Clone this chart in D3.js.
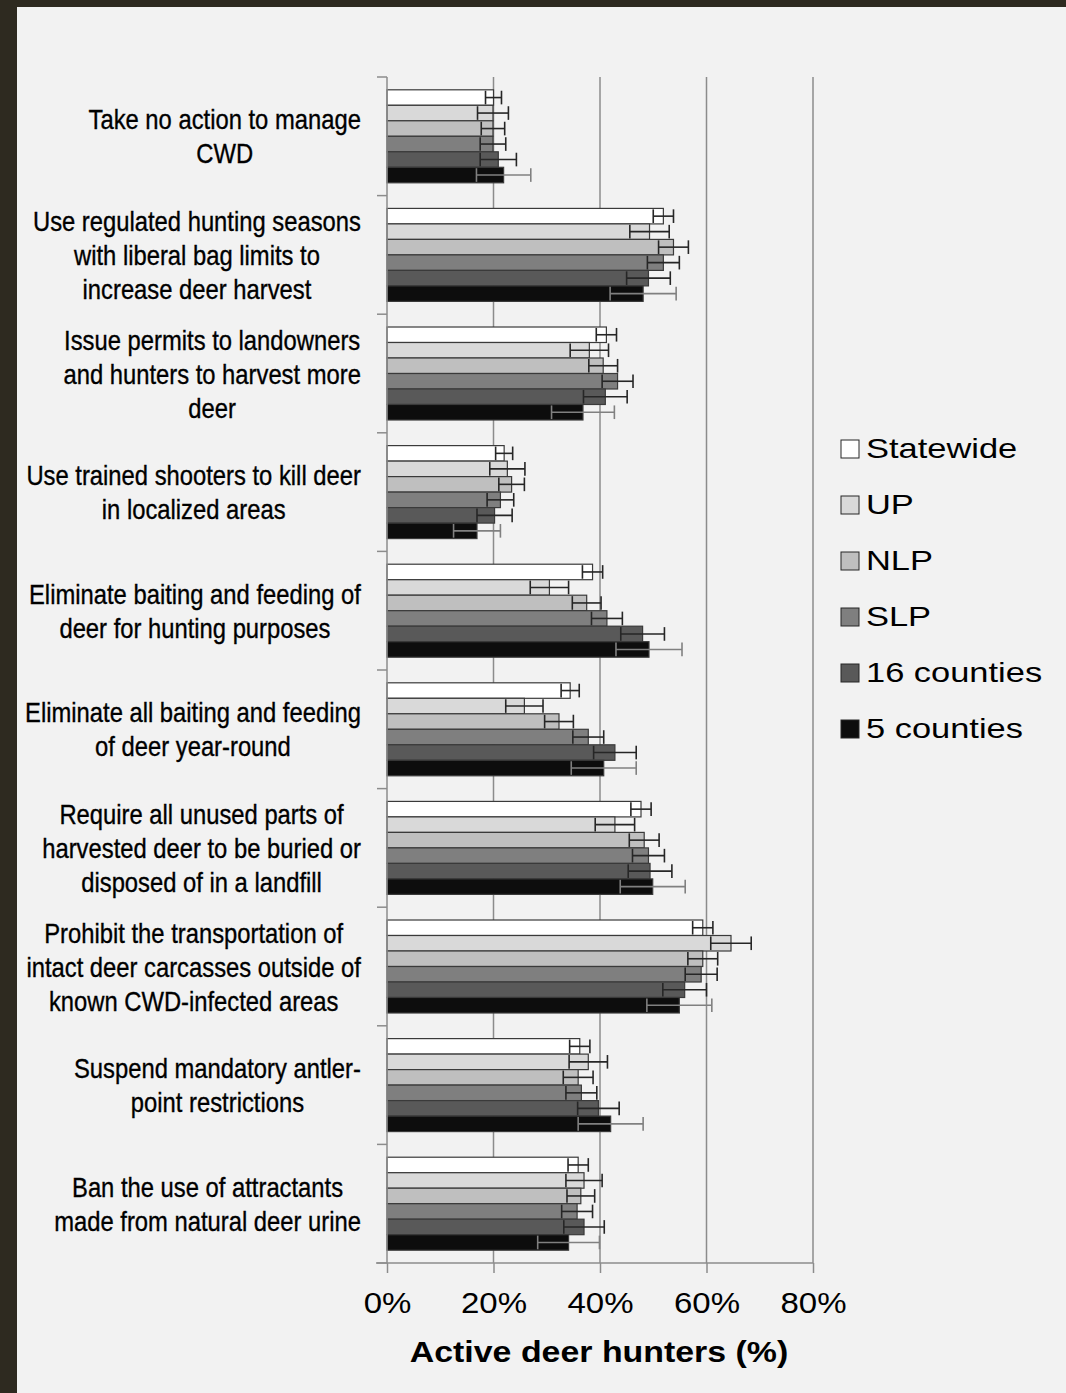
<!DOCTYPE html>
<html>
<head>
<meta charset="utf-8">
<script src="https://cdn.jsdelivr.net/npm/d3@7/dist/d3.min.js"></script>
<style>
  html, body { margin: 0; padding: 0; background: #2e2a20; }
  svg { display: block; }
  text { font-family: "Liberation Sans", Arial, sans-serif; fill: #000; }
</style>
</head>
<body>
<svg id="chart"></svg>
<script>
// Management options (label lines)
const categories = [
  ["Take no action to manage", "CWD"],
  ["Use regulated hunting seasons", "with liberal bag limits to", "increase deer harvest"],
  ["Issue permits to landowners", "and hunters to harvest more", "deer"],
  ["Use trained shooters to kill deer", "in localized areas"],
  ["Eliminate baiting and feeding of", "deer for hunting purposes"],
  ["Eliminate all baiting and feeding", "of deer year-round"],
  ["Require all unused parts of", "harvested deer to be buried or", "disposed of in a landfill"],
  ["Prohibit the transportation of", "intact deer carcasses outside of", "known CWD-infected areas"],
  ["Suspend mandatory antler-", "point restrictions"],
  ["Ban the use of attractants", "made from natural deer urine"]
];

const seriesNames = ["Statewide", "UP", "NLP", "SLP", "16 counties", "5 counties"];

// Percent support, one value per category
const statewide = [20.0, 51.9, 41.2, 22.0, 38.6, 34.4, 47.7, 59.3, 36.2, 35.9];
const up        = [19.9, 49.3, 38.0, 22.6, 30.5, 25.8, 42.8, 64.6, 37.8, 37.0];
const nlp       = [19.9, 53.8, 40.6, 23.4, 37.5, 32.3, 48.3, 59.3, 35.9, 36.4];
const slp       = [19.9, 51.9, 43.3, 21.3, 41.3, 37.8, 49.1, 59.0, 36.5, 35.7];
const counties16 = [20.9, 49.1, 41.0, 20.2, 48.0, 42.8, 49.4, 55.9, 39.7, 37.0];
const counties5  = [21.9, 48.1, 36.8, 16.9, 49.2, 40.7, 49.9, 54.9, 42.0, 34.1];

// Error bar half-widths (percentage points)
const statewideErr  = [1.5, 1.9, 1.9, 1.6, 1.9, 1.7, 1.9, 1.9, 1.9, 1.9];
const upErr         = [2.9, 3.7, 3.6, 3.3, 3.6, 3.5, 3.7, 3.8, 3.6, 3.4];
const nlpErr        = [2.2, 2.8, 2.7, 2.4, 2.7, 2.7, 2.8, 2.8, 2.8, 2.6];
const slpErr        = [2.4, 3.0, 2.9, 2.5, 2.9, 2.9, 3.0, 3.0, 2.9, 2.9];
const counties16Err = [3.4, 4.1, 4.1, 3.3, 4.1, 4.0, 4.1, 4.1, 3.9, 3.8];
const counties5Err  = [5.1, 6.2, 5.9, 4.4, 6.2, 6.1, 6.1, 6.1, 6.1, 5.8];

const xTicks = [0, 20, 40, 60, 80];

const seriesValues = [statewide, up, nlp, slp, counties16, counties5];
const seriesErrors = [statewideErr, upErr, nlpErr, slpErr, counties16Err, counties5Err];
const fills = ["#ffffff", "#d9d9d9", "#bfbfbf", "#7f7f7f", "#595959", "#0d0d0d"];
const errColors = ["#262626", "#262626", "#262626", "#262626", "#262626", "#808080"];

// Flatten into bar records
const bars = [];
categories.forEach((c, ci) => {
  seriesNames.forEach((s, si) => {
    bars.push({ cat: ci, series: s, si: si, value: seriesValues[si][ci], err: seriesErrors[si][ci] });
  });
});

const W = 1066, H = 1393;
const plot = { left: 387, right: 813, top: 77, bottom: 1263 };

const svg = d3.select("#chart").attr("width", W).attr("height", H);

// Light panel inside the dark frame
svg.append("rect")
  .attr("x", 17).attr("y", 7)
  .attr("width", W - 17).attr("height", H - 7)
  .attr("fill", "#f2f2f2");

// Scales
const xScale = d3.scaleLinear().domain([0, 80]).range([plot.left, plot.right]);

const yScale = d3.scaleBand()
  .domain(d3.range(categories.length))
  .range([plot.top, plot.bottom])
  .paddingInner(0.216)
  .paddingOuter(0.108);

const ySub = d3.scaleBand()
  .domain(seriesNames)
  .range([0, yScale.bandwidth()]);

const step = yScale.step();

// Gridlines
svg.append("g")
  .selectAll("line")
  .data(xTicks.slice(1))
  .enter()
  .append("line")
  .attr("x1", d => xScale(d)).attr("x2", d => xScale(d))
  .attr("y1", plot.top).attr("y2", plot.bottom)
  .attr("stroke", "#8c8c8c")
  .attr("stroke-width", 1.5);

// Bars
const barG = svg.append("g");
barG.selectAll("rect")
  .data(bars)
  .enter()
  .append("rect")
  .attr("x", xScale(0))
  .attr("y", d => yScale(d.cat) + ySub(d.series))
  .attr("width", d => xScale(d.value) - xScale(0))
  .attr("height", ySub.bandwidth())
  .attr("fill", d => fills[d.si])
  .attr("stroke", "#3a3a3a")
  .attr("stroke-width", 1.2);

// Error bars
const errG = svg.append("g")
  .selectAll("g")
  .data(bars)
  .enter()
  .append("g")
  .attr("stroke", d => errColors[d.si])
  .attr("stroke-width", 1.6);

const cy = d => yScale(d.cat) + ySub(d.series) + ySub.bandwidth() / 2;
const capH = ySub.bandwidth() * 0.44;

errG.append("line")
  .attr("x1", d => xScale(d.value - d.err)).attr("x2", d => xScale(d.value + d.err))
  .attr("y1", cy).attr("y2", cy);
errG.append("line")
  .attr("x1", d => xScale(d.value - d.err)).attr("x2", d => xScale(d.value - d.err))
  .attr("y1", d => cy(d) - capH).attr("y2", d => cy(d) + capH);
errG.append("line")
  .attr("x1", d => xScale(d.value + d.err)).attr("x2", d => xScale(d.value + d.err))
  .attr("y1", d => cy(d) - capH).attr("y2", d => cy(d) + capH);

// Left axis line with category boundary ticks
const axisColor = "#8c8c8c";
svg.append("line")
  .attr("x1", xScale(0)).attr("x2", xScale(0))
  .attr("y1", plot.top).attr("y2", plot.bottom)
  .attr("stroke", axisColor).attr("stroke-width", 1.5);

svg.append("g")
  .selectAll("line")
  .data(d3.range(categories.length + 1))
  .enter()
  .append("line")
  .attr("x1", xScale(0) - 10).attr("x2", xScale(0))
  .attr("y1", i => plot.top + i * step).attr("y2", i => plot.top + i * step)
  .attr("stroke", axisColor).attr("stroke-width", 1.5);

// Bottom axis
const xAxis = svg.append("g")
  .attr("transform", `translate(0,${plot.bottom})`)
  .call(d3.axisBottom(xScale).tickValues(xTicks).tickSize(10).tickSizeOuter(0).tickFormat(d => d + "%"));

xAxis.select(".domain")
  .attr("d", `M${xScale(0) - 11},0H${xScale(80)}`)
  .attr("stroke", axisColor).attr("stroke-width", 1.5);
xAxis.selectAll(".tick line").attr("stroke", axisColor).attr("stroke-width", 1.5);
xAxis.selectAll(".tick text")
  .attr("y", 0).attr("dy", 0)
  .attr("transform", "translate(0,50) scale(1.1,1)")
  .style("font-family", "'Liberation Sans', Arial, sans-serif")
  .style("font-size", "30px")
  .attr("fill", "#000");

// Axis title
svg.append("text")
  .attr("transform", `translate(${(xScale(0) + xScale(80)) / 2 - 1},1362) scale(1.13,1)`)
  .attr("text-anchor", "middle")
  .style("font-size", "30px")
  .style("font-weight", "bold")
  .text("Active deer hunters (%)");

// Category labels: centred lines, block right-aligned near the axis
const lineH = 34;
const labelScale = 0.85;
const labelG = svg.append("g")
  .attr("stroke", "#000")
  .attr("stroke-width", 0.35);
categories.forEach((lines, ci) => {
  const g = labelG.append("g");
  const mid = yScale(ci) + yScale.bandwidth() / 2;
  const texts = lines.map((ln, li) => g.append("text")
    .attr("text-anchor", "middle")
    .style("font-size", "28px")
    .text(ln));
  const maxW = d3.max(texts, t => t.node().getComputedTextLength()) * labelScale;
  const cx = 361 - maxW / 2;
  texts.forEach((t, li) => {
    const by = mid + 10 + (li - (lines.length - 1) / 2) * lineH;
    t.attr("transform", `translate(${cx},${by}) scale(${labelScale},1)`);
  });
});

// Legend
const legend = svg.append("g").attr("transform", "translate(841,440)");
const items = legend.selectAll("g")
  .data(seriesNames)
  .enter()
  .append("g")
  .attr("transform", (d, i) => `translate(0,${i * 56})`);

items.append("rect")
  .attr("width", 18).attr("height", 18)
  .attr("fill", (d, i) => fills[i])
  .attr("stroke", "#262626").attr("stroke-width", 1);

items.append("text")
  .attr("transform", "translate(25,18) scale(1.23,1)")
  .style("font-size", "28px")
  .text(d => d);
</script>
</body>
</html>
